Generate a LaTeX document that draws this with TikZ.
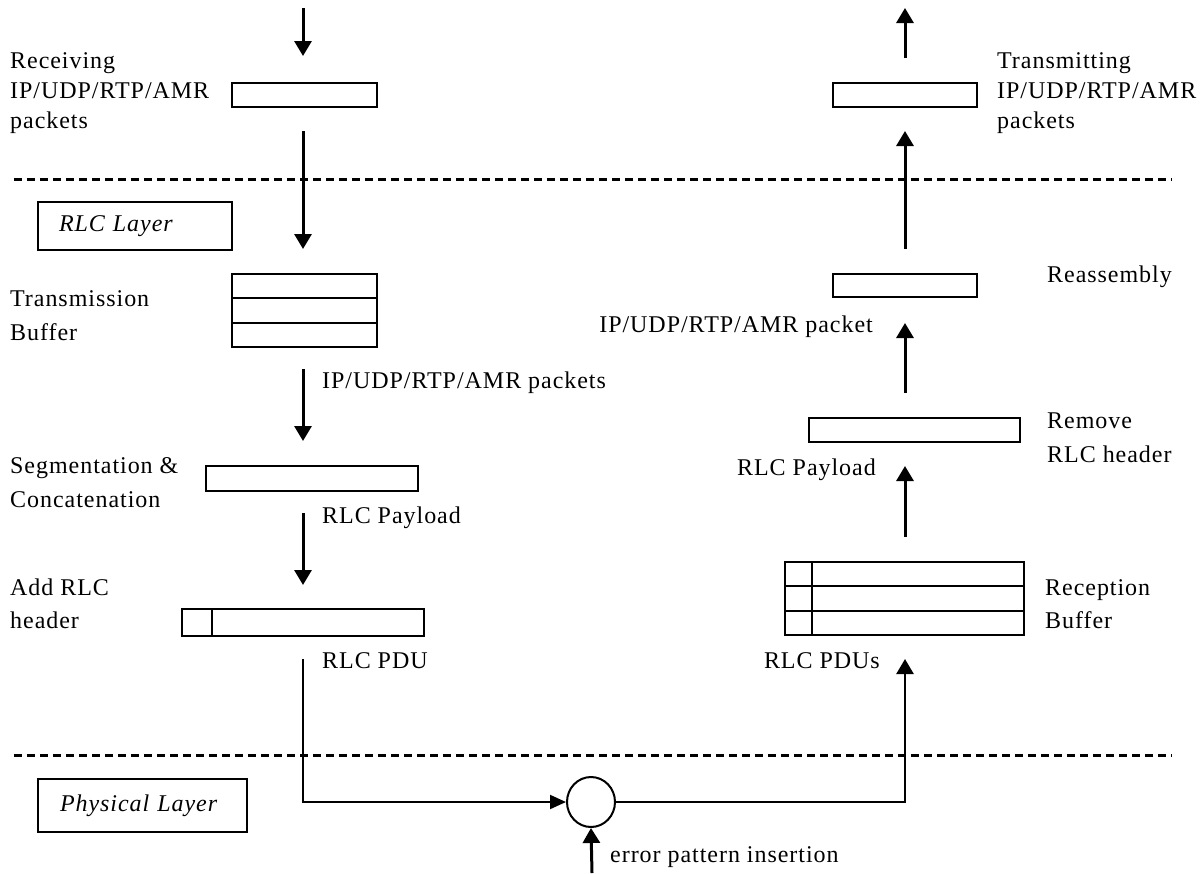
\documentclass[tikz,border=0pt]{standalone}
\usepackage{fontspec}
\setmainfont{Liberation Serif}[LetterSpace=4]
\usetikzlibrary{arrows.meta,calc,shapes.geometric}
\begin{document}
\begin{tikzpicture}[x=1pt,y=-1pt,
  font=\fontsize{24}{30}\selectfont,
  pbox/.style={draw, line width=2pt, inner sep=0pt},
  lbl/.style={inner sep=0pt, anchor=base west},
  lble/.style={inner sep=0pt, anchor=base east},
  layerbox/.style={draw, line width=2pt, inner ysep=0pt, align=left, font=\fontsize{24}{30}\selectfont\itshape},
  arr/.style={line width=3pt, -{Triangle[length=15pt,width=17pt]}},
  arrthin/.style={line width=2pt, -{Triangle[length=16pt,width=14pt]}},
  sep/.style={line width=3pt, dash pattern=on 8pt off 5pt},
  divider/.style={line width=2pt}]
\useasboundingbox (0,0) rectangle (1204,873);
% column coordinates
\coordinate (colL) at (303,0);
\coordinate (colR) at (905,0);
\coordinate (inTop) at (303,8);
\coordinate (outTop) at (905,8);
\coordinate (errsrc) at (592,873);
% layer separators
\coordinate (sepAw) at (14,179);
\coordinate (sepAe) at (1172,179);
\coordinate (sepBw) at (14,755);
\coordinate (sepBe) at (1172,755);
\draw[sep] (sepAw) -- (sepAe);
\draw[sep] (sepBw) -- (sepBe);
% layer boxes
\node[layerbox, minimum width=194pt, minimum height=48pt, text width=152pt, inner xsep=21pt] (rlclayer) at (135,226) {RLC Layer};
\node[layerbox, minimum width=209pt, minimum height=53pt, text width=165pt, inner xsep=22pt] (phylayer) at (142.5,805.5) {Physical Layer};
% packet boxes
\node[pbox, minimum width=145pt, minimum height=24pt] (recv) at (304.5,95) {};
\node[pbox, minimum width=144pt, minimum height=24pt] (xmit) at (905,95) {};
\node[pbox, minimum width=145pt, minimum height=73pt] (txbuf) at (304.5,310.5) {};
\draw[divider] ($(txbuf.north west)!1/3!(txbuf.south west)$) -- ($(txbuf.north east)!1/3!(txbuf.south east)$);
\draw[divider] ($(txbuf.north west)!2/3!(txbuf.south west)$) -- ($(txbuf.north east)!2/3!(txbuf.south east)$);
\node[pbox, minimum width=144pt, minimum height=23pt] (reasm) at (905,285.5) {};
\node[pbox, minimum width=212pt, minimum height=25pt] (seg) at (312,478.5) {};
\node[pbox, minimum width=211pt, minimum height=24pt] (remove) at (914.5,430) {};
\node[pbox, minimum width=242pt, minimum height=27pt] (addrlc) at (303,622.5) {};
\draw[divider] ([xshift=31pt]addrlc.north west) -- ([xshift=31pt]addrlc.south west);
\node[pbox, minimum width=239pt, minimum height=73pt] (rxbuf) at (904.5,598.5) {};
\draw[divider] ($(rxbuf.north west)!1/3!(rxbuf.south west)$) -- ($(rxbuf.north east)!1/3!(rxbuf.south east)$);
\draw[divider] ($(rxbuf.north west)!2/3!(rxbuf.south west)$) -- ($(rxbuf.north east)!2/3!(rxbuf.south east)$);
\draw[divider] ([xshift=28pt]rxbuf.north west) -- ([xshift=28pt]rxbuf.south west);
\node[draw, ellipse, line width=2pt, minimum width=48pt, minimum height=50pt, inner sep=0pt] (err) at (591,802) {};
% labels, left column
\node[lbl] (recv1) at (10,68) {Receiving};
\node[lbl] (recv2) at (10,98) {IP/UDP/RTP/AMR};
\node[lbl] (recv3) at (10,128) {packets};
\node[lbl] (txb1) at (10,306) {Transmission};
\node[lbl] (txb2) at (10,340) {Buffer};
\node[lbl] (ippk) at (322,388) {IP/UDP/RTP/AMR packets};
\node[lbl] (seg1) at (10,473) {Segmentation \&};
\node[lbl] (seg2) at (10,507) {Concatenation};
\node[lbl] (plL) at (322,523) {RLC Payload};
\node[lbl] (add1) at (10,595) {Add RLC};
\node[lbl] (add2) at (10,628) {header};
\node[lbl] (pduL) at (322,668) {RLC PDU};
% labels, right column
\node[lbl] (xm1) at (997,68) {Transmitting};
\node[lbl] (xm2) at (997,98) {IP/UDP/RTP/AMR};
\node[lbl] (xm3) at (997,128) {packets};
\node[lbl] (reas) at (1047,282) {Reassembly};
\node[lble] (ippkR) at (873,332) {IP/UDP/RTP/AMR packet};
\node[lbl] (rem1) at (1047,428) {Remove};
\node[lbl] (rem2) at (1047,462) {RLC header};
\node[lble] (plR) at (876,475) {RLC Payload};
\node[lbl] (rx1) at (1045,595) {Reception};
\node[lbl] (rx2) at (1045,628) {Buffer};
\node[lble] (pduR) at (880,668) {RLC PDUs};
\node[lbl] (errl) at (610,862) {error pattern insertion};
% connectors, transmit side
\draw[arr, shorten >=26pt] (inTop) -- (recv.north -| colL);
\draw[arr, shorten <=23pt, shorten >=24pt] (recv.south -| colL) -- (txbuf.north -| colL);
\draw[arr, shorten <=21pt, shorten >=24pt] (txbuf.south -| colL) -- (seg.north -| colL);
\draw[arr, shorten <=21pt, shorten >=23pt] (seg.south -| colL) -- (addrlc.north -| colL);
\draw[arrthin, shorten <=22pt] (addrlc.south -| colL) |- (err.west);
\draw[arrthin, line width=3pt, -{Triangle[length=15pt,width=17pt]}] (errsrc) -- (err.south);
% connectors, receive side
\draw[arr, line width=2.5pt, shorten >=23pt] (err.east) -| (rxbuf.south -| colR);
\draw[arr, shorten <=24pt, shorten >=23pt] (rxbuf.north -| colR) -- (remove.south -| colR);
\draw[arr, shorten <=24pt, shorten >=25pt] (remove.north -| colR) -- (reasm.south -| colR);
\draw[arr, shorten <=24pt, shorten >=23pt] (reasm.north -| colR) -- (xmit.south -| colR);
\draw[arr, shorten <=24pt] (xmit.north -| colR) -- (outTop);
\end{tikzpicture}
\end{document}
